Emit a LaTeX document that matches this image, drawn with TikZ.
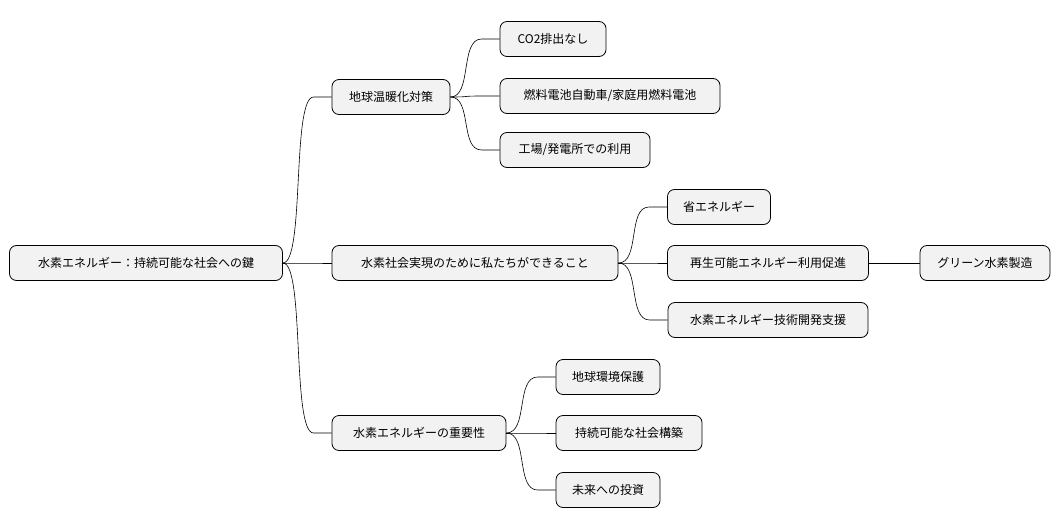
\documentclass[tikz,border=0pt]{standalone}
\usepackage{fontspec}
\setmainfont{Noto Sans CJK JP}
\begin{document}
\begin{tikzpicture}[x=1pt,y=-1pt,
  box/.style={draw=black,line width=0.8pt,fill=black!5,rounded corners=7pt,minimum height=35pt,inner sep=0pt,font=\fontsize{12}{14}\selectfont},
  ed/.style={line width=0.6pt}]
\useasboundingbox (0,0) rectangle (1062,527);
\node[box,minimum width=273pt] (r) at (146,263) {水素エネルギー：持続可能な社会への鍵};
\node[box,minimum width=118pt] (a) at (391,97) {地球温暖化対策};
\node[box,minimum width=286pt] (b) at (475,263) {水素社会実現のために私たちができること};
\node[box,minimum width=174pt] (c) at (419,433) {水素エネルギーの重要性};
\node[box,minimum width=106pt] (a1) at (553,39) {CO2排出なし};
\node[box,minimum width=220pt] (a2) at (610,96) {燃料電池自動車/家庭用燃料電池};
\node[box,minimum width=150pt] (a3) at (575,150) {工場/発電所での利用};
\node[box,minimum width=103pt] (b1) at (719,207) {省エネルギー};
\node[box,minimum width=201pt] (b2) at (768,263) {再生可能エネルギー利用促進};
\node[box,minimum width=200pt] (b3) at (768,320) {水素エネルギー技術開発支援};
\node[box,minimum width=130pt] (g) at (985,263) {グリーン水素製造};
\node[box,minimum width=104pt] (c1) at (608,377) {地球環境保護};
\node[box,minimum width=146pt] (c2) at (629,433) {持続可能な社会構築};
\node[box,minimum width=104pt] (c3) at (608,490) {未来への投資};
\foreach \p/\c in {r/a,r/b,r/c,a/a1,a/a2,a/a3,b/b1,b/b2,b/b3,c/c1,c/c2,c/c3}{
  \draw[ed] (\p.east) .. controls ([xshift=22pt]\p.east) and ([xshift=-40pt]\c.west) .. ([xshift=-18pt]\c.west) -- (\c.west);
}
\draw[ed] (b2.east) -- (g.west);
\end{tikzpicture}
\end{document}
